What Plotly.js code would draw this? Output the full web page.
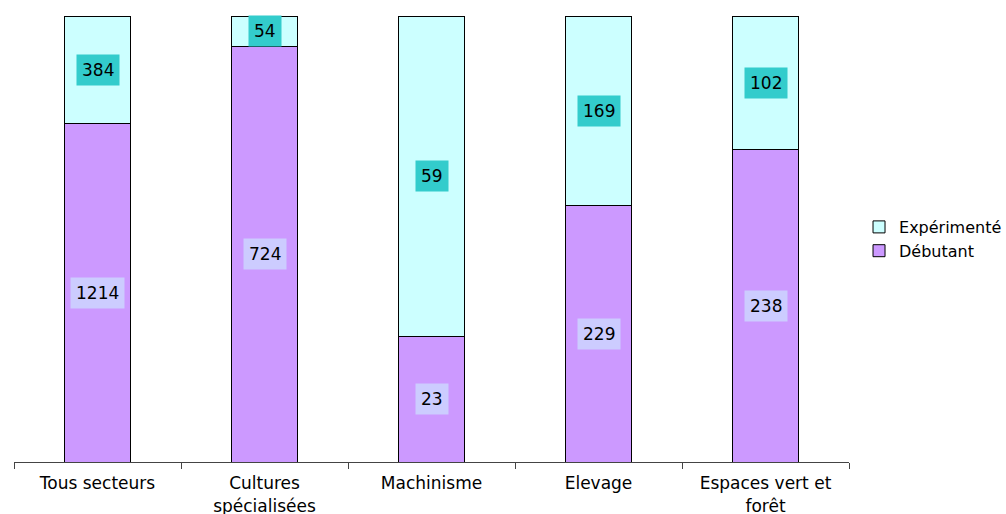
<!DOCTYPE html>
<html>
<head>
<meta charset="utf-8">
<script src="https://cdn.plot.ly/plotly-3.0.1.min.js"></script>
<style>html,body{margin:0;padding:0;background:#fff;}</style>
</head>
<body>
<div id="chart" style="width:1006px;height:514px;"></div>
<script>
const categories = ["Tous secteurs", "Cultures<br>spécialisées", "Machinisme", "Elevage", "Espaces vert et<br>forêt"];
const debutant = [1214, 724, 23, 229, 238];
const experimente = [384, 54, 59, 169, 102];

const FONT = "DejaVu Sans, Arial";
const totals = debutant.map((d, i) => d + experimente[i]);
const annotations = [];
categories.forEach((c, i) => {
  const pd = debutant[i] / totals[i] * 100;
  const pe = experimente[i] / totals[i] * 100;
  annotations.push({x: c, y: pd / 2, text: String(debutant[i]), showarrow: false,
    bgcolor: "#CCCCFF", borderpad: 5, font: {family: FONT, size: 17, color: "#000"}});
  annotations.push({x: c, y: pd + pe / 2, text: String(experimente[i]), showarrow: false,
    bgcolor: "#33CCCC", borderpad: 5, font: {family: FONT, size: 17, color: "#000"}});
});

const traces = [
  {type: "bar", name: "Débutant", x: categories, y: debutant, width: 0.4,
   marker: {color: "#CC99FF", line: {color: "#000", width: 1}}, hoverinfo: "none"},
  {type: "bar", name: "Expérimenté", x: categories, y: experimente, width: 0.4,
   marker: {color: "#CCFFFF", line: {color: "#000", width: 1}}, hoverinfo: "none"}
];

const layout = {
  width: 1006, height: 514,
  margin: {l: 14, r: 157, t: 16, b: 52, autoexpand: false},
  barmode: "stack", barnorm: "percent",
  paper_bgcolor: "#fff", plot_bgcolor: "#fff",
  font: {family: FONT, size: 17, color: "#000"},
  xaxis: {showline: true, linecolor: "#444", linewidth: 1, ticks: "outside", tickson: "boundaries",
          ticklen: 6, tickcolor: "#444", showgrid: false, zeroline: false, ticklabelstandoff: 6,
          automargin: false, tickfont: {family: FONT, size: 17, color: "#000"}},
  yaxis: {range: [0, 100], visible: false, showgrid: false, zeroline: false},
  showlegend: true,
  legend: {x: 1.012, y: 0.5, xanchor: "left", yanchor: "middle", traceorder: "reversed",
           tracegroupgap: 0, font: {family: FONT, size: 16, color: "#000"}, itemwidth: 30},
  annotations: annotations
};

Plotly.newPlot("chart", traces, layout, {displayModeBar: false, staticPlot: true});
</script>
</body>
</html>
